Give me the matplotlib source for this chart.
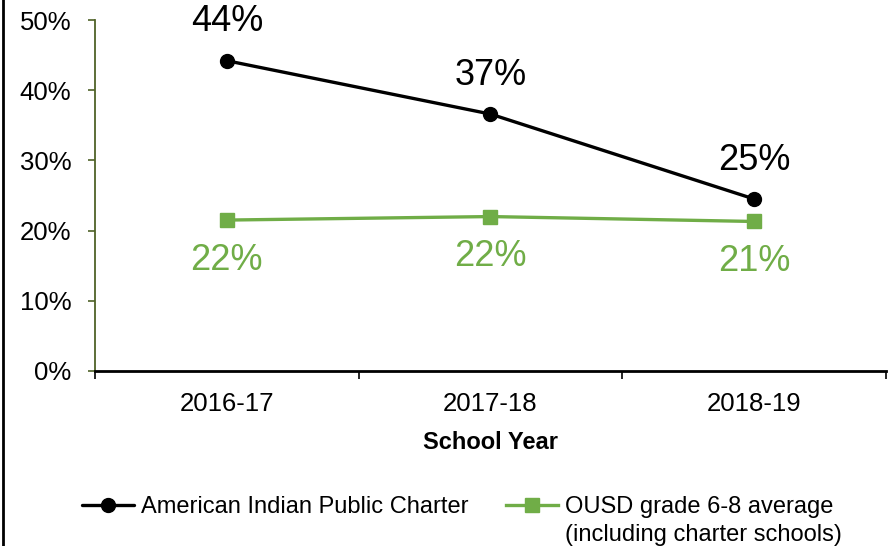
import matplotlib
matplotlib.use("Agg")
import matplotlib.pyplot as plt
from matplotlib.lines import Line2D

plt.rcParams['font.family'] = ['Liberation Sans', 'DejaVu Sans']

years = ['2016-17', '2017-18', '2018-19']
aipc = [44.2, 36.6, 24.5]
ousd = [21.5, 22.0, 21.3]
aipc_labels = ['44%', '37%', '25%']
ousd_labels = ['22%', '22%', '21%']
yticks = [0, 10, 20, 30, 40, 50]

black = '#000000'
green = '#70AD47'
olive = '#4F6228'

fig = plt.figure(figsize=(8.89, 5.46), dpi=100)
ax = fig.add_axes([95 / 889, 1 - 371 / 546, 791 / 889, 351 / 546])

x = list(range(len(years)))
ax.plot(x, aipc, color=black, lw=2.4, marker='o', markersize=10,
        label='American Indian Public Charter', solid_capstyle='round')
ax.plot(x, ousd, color=green, lw=2.4, marker='s', markersize=10.5,
        label='OUSD grade 6-8 average')

for xi, v, t in zip(x, aipc, aipc_labels):
    ax.annotate(t, (xi, v), xytext=(0, 28), textcoords='offset points',
                ha='center', va='center', fontsize=26, color=black)
for xi, v, t in zip(x, ousd, ousd_labels):
    ax.annotate(t, (xi, v), xytext=(0, -29), textcoords='offset points',
                ha='center', va='center', fontsize=26, color=green)

ax.set_xlim(-0.5, 2.5)
ax.set_ylim(0, 50)
ax.set_yticks(yticks)
ax.set_yticklabels([f'{v}%' for v in yticks])
ax.set_xticks(x)
ax.set_xticklabels(years)
ax.set_xticks([-0.5, 0.5, 1.5, 2.5], minor=True)

ax.tick_params(axis='y', length=5, width=1.2, color=olive, pad=12, labelsize=18.5)
ax.tick_params(axis='x', which='major', length=0, pad=15, labelsize=18.5)
ax.tick_params(axis='x', which='minor', length=6, width=1.2, color=black)

for s in ['top', 'right']:
    ax.spines[s].set_visible(False)
ax.spines['left'].set_color(olive)
ax.spines['left'].set_linewidth(1.3)
ax.spines['bottom'].set_color(black)
ax.spines['bottom'].set_linewidth(2)

ax.set_xlabel('School Year', fontsize=17, fontweight='bold', labelpad=11)

leg = fig.legend(loc='center', bbox_to_anchor=(0.5146, 1 - 507 / 546), ncol=2,
                 frameon=False, fontsize=17, handlelength=2.2,
                 handletextpad=0.3, columnspacing=1.6)

# second line of the OUSD legend entry sits under the first, handle stays on line one
fig.canvas.draw()
bb = leg.get_texts()[1].get_window_extent()
fig.text(bb.x0 / 889, (bb.y0 + bb.y1) / 2 / 546 - 28 / 546,
         '(including charter schools)', fontsize=17, ha='left', va='center')

fig.add_artist(Line2D([3 / 889, 3 / 889], [0, 1], color=black, lw=2,
                      transform=fig.transFigure))

fig.savefig('out.png', dpi=100)
